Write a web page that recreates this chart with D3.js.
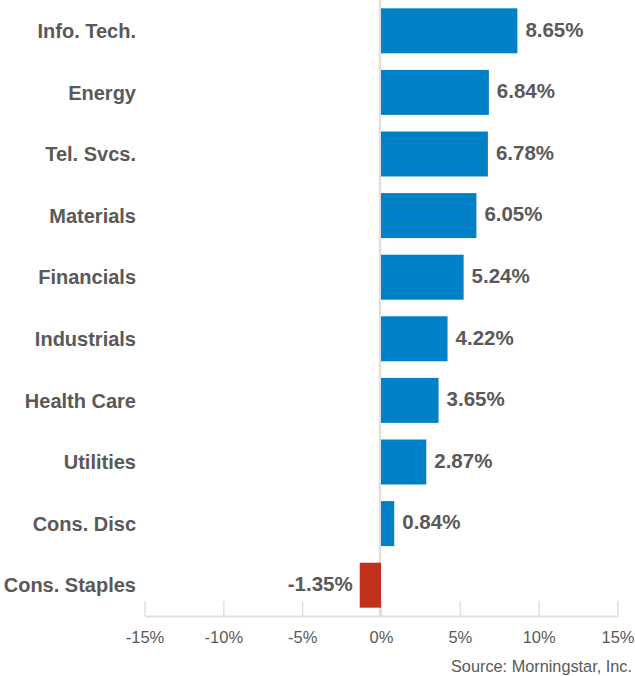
<!DOCTYPE html>
<html>
<head>
<meta charset="utf-8">
<script src="https://cdn.jsdelivr.net/npm/d3@7"></script>
<style>
  html, body { margin: 0; padding: 0; background: #fff; }
  svg { display: block; font-family: "Liberation Sans", Arial, sans-serif; }
</style>
</head>
<body>
<svg id="chart" width="635" height="676"></svg>
<script>
const categories = ["Info. Tech.", "Energy", "Tel. Svcs.", "Materials", "Financials",
                    "Industrials", "Health Care", "Utilities", "Cons. Disc", "Cons. Staples"];
const values = [8.65, 6.84, 6.78, 6.05, 5.24, 4.22, 3.65, 2.87, 0.84, -1.35];
const tickValues = [-15, -10, -5, 0, 5, 10, 15];
const source = "Source: Morningstar, Inc.";

const svg = d3.select("#chart");
const textColor = "#595959";
const gridColor = "#e3dfdb";

const x = d3.scaleLinear().domain([-15, 15]).range([144.5, 617.5]);
const y = d3.scaleBand().domain(categories).range([0, 616])
  .paddingInner(0.27).paddingOuter(0.135);

// axis
const axis = d3.axisBottom(x).tickValues(tickValues)
  .tickFormat(d => d + "%").tickSizeInner(-15).tickSizeOuter(0).tickPadding(15);
const gAxis = svg.append("g").attr("transform", "translate(0,616)").call(axis);
gAxis.select(".domain").attr("stroke", gridColor).attr("stroke-width", 2);
gAxis.selectAll(".tick line").attr("stroke", gridColor).attr("stroke-width", 1.5);
gAxis.selectAll(".tick text").attr("fill", textColor).attr("font-size", 16.5)
  .attr("font-family", "Liberation Sans, Arial, sans-serif");

// zero line
svg.append("line")
  .attr("x1", x(0) - 1).attr("x2", x(0) - 1)
  .attr("y1", 0).attr("y2", 616)
  .attr("stroke", gridColor).attr("stroke-width", 2.5);

const data = categories.map((c, i) => ({ c, v: values[i] }));

svg.append("g").selectAll("rect").data(data).join("rect")
  .attr("x", d => Math.min(x(0), x(d.v)))
  .attr("width", d => Math.abs(x(d.v) - x(0)))
  .attr("y", d => y(d.c))
  .attr("height", y.bandwidth())
  .attr("fill", d => d.v >= 0 ? "#0080C6" : "#C0321D");

// category labels
svg.append("g").selectAll("text").data(data).join("text")
  .attr("x", 136)
  .attr("y", d => y(d.c) + y.bandwidth() / 2)
  .attr("dy", "0.36em")
  .attr("text-anchor", "end")
  .attr("font-size", 20)
  .attr("font-weight", "bold")
  .attr("fill", textColor)
  .text(d => d.c);

// value labels
svg.append("g").selectAll("text").data(data).join("text")
  .attr("x", d => d.v >= 0 ? x(d.v) + 8 : x(d.v) - 7)
  .attr("y", d => y(d.c) + y.bandwidth() / 2 - 1.5)
  .attr("dy", "0.36em")
  .attr("text-anchor", d => d.v >= 0 ? "start" : "end")
  .attr("font-size", 20.5)
  .attr("font-weight", "bold")
  .attr("fill", textColor)
  .text(d => d.v.toFixed(2) + "%");

// source
svg.append("text")
  .attr("x", 632).attr("y", 672)
  .attr("text-anchor", "end")
  .attr("font-size", 16.3)
  .attr("fill", textColor)
  .text(source);
</script>
</body>
</html>
